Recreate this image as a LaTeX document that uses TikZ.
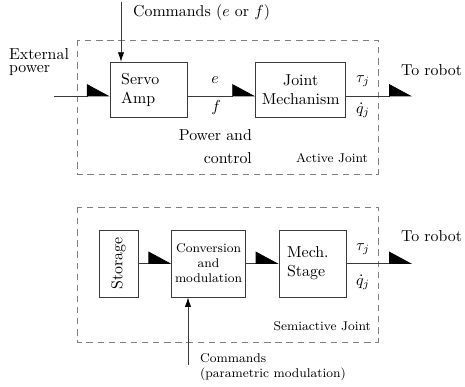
\documentclass[tikz,border=0pt]{standalone}
\usetikzlibrary{positioning, arrows.meta}
\definecolor{lineGray}{HTML}{3A3A3A}
\definecolor{frameGray}{HTML}{808080}

\tikzset{
  blockBox/.style={draw=lineGray, line width=0.5pt, inner sep=2pt},
  jointFrame/.style={draw=frameGray, dash pattern=on 4pt off 3pt, line width=0.5pt},
  halfArrow/.style={draw=lineGray, line width=0.5pt, -{Triangle[left, length=14pt, width=15pt, color=black]}},
  cmdArrow/.style={draw=lineGray, line width=0.5pt, -{Latex[length=6pt, width=4pt, color=black]}},
  tag/.style={inner sep=0.5pt},
}

\begin{document}
\begin{tikzpicture}[x=0.63pt, y=-0.63pt]
  \useasboundingbox (0,0) rectangle (465,387);

  % active joint
  \draw[jointFrame] (77,40) rectangle (378,174);
  \node[blockBox, minimum width=49pt, minimum height=35pt, text width=35pt, align=left] (servo) at (149,90) {Servo\\Amp};
  \node[blockBox, minimum width=56.7pt, minimum height=35pt, align=center, right=42.2pt of servo] (joint) {Joint\\Mechanism};
  \coordinate (railA) at (0,96);
  \coordinate (powerIn) at (54,96);
  \coordinate (outA) at (412,96);
  \coordinate (cmdTop) at (121,2);
  \draw[halfArrow] (powerIn) -- (servo.west |- railA);
  \draw[halfArrow] (servo.east |- railA) -- (joint.west |- railA);
  \draw[halfArrow] (joint.east |- railA) -- (outA);
  \draw[cmdArrow] (cmdTop) -- (cmdTop |- servo.north);

  \node[tag, anchor=west, align=left] (extPower) at (8,62) {External\\[-4pt]power};
  \node[tag, anchor=west] (cmdA) at (132,13) {Commands ($e$ or $f$)};
  \node[tag] (effort) at (215,80) {$e$};
  \node[tag] (flow) at (216,108) {$f$};
  \node[tag, anchor=east, align=right] (pwrCtl) at (253,147) {Power and\\[2.5pt]control};
  \node[tag] (tauA) at (363,81) {$\tau_j$};
  \node[tag] (qdotA) at (363,110) {$\dot q_j$};
  \node[tag, anchor=west] (robotA) at (400,70) {To robot};
  \node[tag, anchor=east, font=\footnotesize] (activeLbl) at (369,158) {Active Joint};

  % semiactive joint
  \draw[jointFrame] (77,207) rectangle (378,342);
  \node[blockBox, minimum width=24.6pt, minimum height=42.2pt] (storage) at (118.5,263.5) {\rotatebox{90}{Storage}};
  \node[blockBox, minimum width=46pt, minimum height=42.2pt, align=center, font=\footnotesize, right=20.8pt of storage] (conv) {Conversion\\and\\modulation};
  \node[blockBox, minimum width=42.2pt, minimum height=42.2pt, text width=32pt, align=left, right=20.8pt of conv] (mech) {Mech.\\Stage};
  \coordinate (outB) at (412,263.5);
  \coordinate (cmdFoot) at (188,365);
  \draw[halfArrow] (storage) -- (conv);
  \draw[halfArrow] (conv) -- (mech);
  \draw[halfArrow] (mech) -- (outB);
  \draw[cmdArrow] (cmdFoot) -- (cmdFoot |- conv.south);

  \node[tag] (tauB) at (363,249) {$\tau_j$};
  \node[tag] (qdotB) at (363,282) {$\dot q_j$};
  \node[tag, anchor=west] (robotB) at (400,236) {To robot};
  \node[tag, anchor=east, font=\footnotesize] (semiLbl) at (372,326) {Semiactive Joint};
  \node[tag, anchor=north west, align=left, font=\footnotesize] (cmdB) at (199,352) {Commands\\(parametric modulation)};
\end{tikzpicture}
\end{document}
